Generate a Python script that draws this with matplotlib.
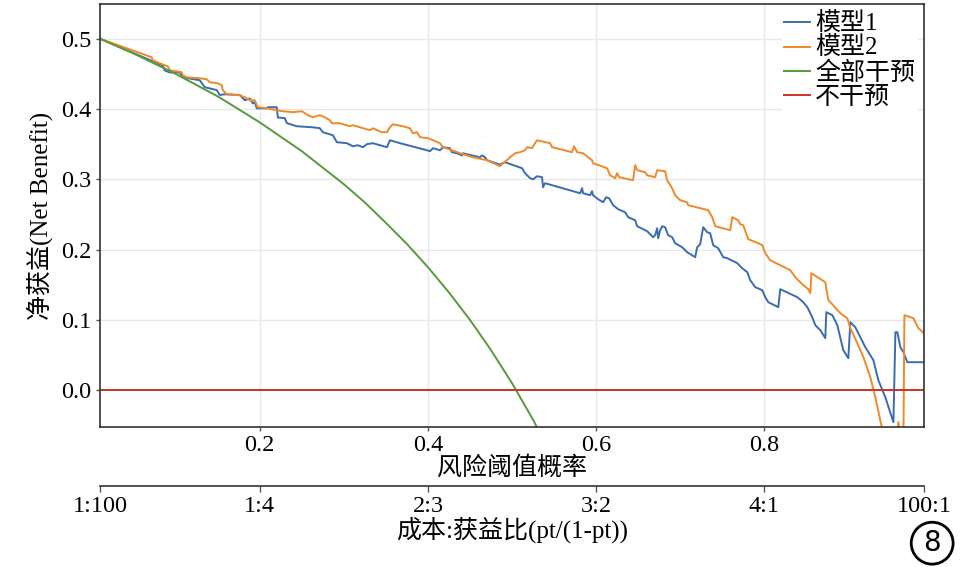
import matplotlib
matplotlib.use('Agg')
import matplotlib.pyplot as plt

plt.rcParams['font.family'] = ['Liberation Serif', 'Noto Sans CJK SC']
plt.rcParams['axes.unicode_minus'] = False

# threshold probability (pt) and net benefit
m1_pt = [0.01, 0.045, 0.0845, 0.0869, 0.0929, 0.1048, 0.1083, 0.1286, 0.1345, 0.1488, 0.1524, 0.1583,
         0.1762, 0.1821, 0.1881, 0.1917, 0.1940, 0.1964, 0.2083, 0.2095, 0.2202, 0.2214, 0.2298, 0.2321,
         0.2440, 0.2631, 0.2714, 0.2750, 0.2869, 0.2917, 0.3036, 0.3107, 0.3167, 0.3226, 0.3274, 0.3345,
         0.3429, 0.3512, 0.3548, 0.3667, 0.3988, 0.4024, 0.4060, 0.4143, 0.4179, 0.4262, 0.4286, 0.4345,
         0.4405, 0.4417, 0.4619, 0.4643, 0.4679, 0.4702, 0.4857, 0.4917, 0.5119, 0.5155, 0.5214, 0.5250,
         0.5298, 0.5357, 0.5369, 0.5393, 0.5810, 0.5833, 0.5845, 0.5929, 0.5952, 0.5964, 0.6024, 0.6083,
         0.6119, 0.6155, 0.6202, 0.6262, 0.6345, 0.6381, 0.6464, 0.6488, 0.6607, 0.6679, 0.6702, 0.6726,
         0.6738, 0.6762, 0.6786, 0.6821, 0.6857, 0.6905, 0.6940, 0.7024, 0.7083, 0.7179, 0.7202, 0.7238,
         0.7274, 0.7321, 0.7357, 0.7393, 0.7452, 0.7512, 0.7560, 0.7679, 0.7738, 0.7798, 0.7833, 0.7893,
         0.7976, 0.8012, 0.8048, 0.8167, 0.8190, 0.8393, 0.8464, 0.8512, 0.8571, 0.8607, 0.8667, 0.8726,
         0.8738, 0.8810, 0.8869, 0.8940, 0.9000, 0.9024, 0.9083, 0.9143, 0.9202, 0.9298, 0.9357, 0.9440,
         0.9536, 0.9560, 0.9583, 0.9619, 0.9655, 0.9702, 0.9900]
m1_nb = [0.500, 0.482, 0.462, 0.455, 0.452, 0.452, 0.445, 0.441, 0.431, 0.427, 0.420, 0.421,
         0.420, 0.4125, 0.415, 0.408, 0.410, 0.401, 0.401, 0.4026, 0.4026, 0.388, 0.387, 0.380,
         0.3755, 0.374, 0.3727, 0.367, 0.3627, 0.3528, 0.3514, 0.347, 0.3485, 0.3457, 0.350, 0.3514,
         0.3485, 0.3457, 0.3556, 0.3514, 0.3414, 0.340, 0.3443, 0.3414, 0.3457, 0.3443, 0.3386, 0.337,
         0.334, 0.337, 0.3314, 0.334, 0.3314, 0.3272, 0.321, 0.3243, 0.3158, 0.3087, 0.3016, 0.300,
         0.3044, 0.303, 0.2888, 0.2945, 0.2802, 0.2873, 0.2802, 0.2774, 0.2831, 0.2774, 0.2717, 0.2674,
         0.2745, 0.2731, 0.2632, 0.2575, 0.2532, 0.2461, 0.2418, 0.2333, 0.2262, 0.2176, 0.2205, 0.2304,
         0.2162, 0.2276, 0.2333, 0.2319, 0.2205, 0.2176, 0.2091, 0.2034, 0.1963, 0.1892, 0.2034, 0.2077,
         0.2319, 0.2248, 0.2233, 0.2063, 0.2020, 0.1892, 0.1878, 0.1807, 0.1735, 0.1679, 0.1565, 0.1465,
         0.1423, 0.1323, 0.1252, 0.1181, 0.1437, 0.1323, 0.1252, 0.1181, 0.1038, 0.0925, 0.0854, 0.0740,
         0.1110, 0.1067, 0.0925, 0.0569, 0.0455, 0.0967, 0.0896, 0.0754, 0.0612, 0.0427, 0.0142, -0.010,
         -0.0455, 0.0825, 0.0825, 0.0612, 0.0541, 0.0398, 0.0398]

m2_pt = [0.01, 0.0417, 0.0714, 0.0726, 0.0869, 0.0905, 0.0929, 0.1071, 0.1083, 0.1131, 0.1286, 0.1369,
         0.1405, 0.1500, 0.1548, 0.1560, 0.1607, 0.1762, 0.1821, 0.1881, 0.1940, 0.1976, 0.2083, 0.2202,
         0.2274, 0.2393, 0.2500, 0.2536, 0.2571, 0.2631, 0.2714, 0.2774, 0.2833, 0.2857, 0.2952, 0.3071,
         0.3107, 0.3310, 0.3345, 0.3452, 0.3512, 0.3548, 0.3583, 0.3702, 0.3786, 0.3821, 0.3869, 0.3905,
         0.4000, 0.4060, 0.4143, 0.4179, 0.4286, 0.4381, 0.4536, 0.4702, 0.4857, 0.4893, 0.4940, 0.4976,
         0.5036, 0.5095, 0.5155, 0.5179, 0.5238, 0.5250, 0.5298, 0.5452, 0.5476, 0.5714, 0.5738, 0.5774,
         0.5845, 0.5905, 0.5952, 0.5964, 0.6131, 0.6167, 0.6226, 0.6250, 0.6274, 0.6440, 0.6464, 0.6488,
         0.6583, 0.6607, 0.6702, 0.6726, 0.6821, 0.6845, 0.6905, 0.6940, 0.7000, 0.7083, 0.7095, 0.7333,
         0.7381, 0.7417, 0.7595, 0.7619, 0.7690, 0.7714, 0.7750, 0.7810, 0.7929, 0.7976, 0.8012, 0.8071,
         0.8190, 0.8310, 0.8369, 0.8429, 0.8464, 0.8524, 0.8548, 0.8560, 0.8726, 0.8762, 0.8821, 0.8869,
         0.8905, 0.8988, 0.9024, 0.9107, 0.9179, 0.9262, 0.9321, 0.9405, 0.9452, 0.9571, 0.9595, 0.9619,
         0.9655, 0.9667, 0.9774, 0.9833, 0.9900]
m2_nb = [0.500, 0.4865, 0.4737, 0.4694, 0.4623, 0.4609, 0.4552, 0.4524, 0.4481, 0.4452, 0.4438, 0.4424,
         0.4381, 0.4367, 0.4339, 0.4268, 0.4211, 0.4196, 0.4168, 0.4125, 0.4125, 0.4026, 0.4011, 0.3983,
         0.3969, 0.3955, 0.3969, 0.394, 0.3912, 0.3883, 0.3912, 0.3883, 0.3841, 0.3798, 0.3798, 0.3755,
         0.377, 0.3699, 0.3727, 0.367, 0.367, 0.3741, 0.3784, 0.3755, 0.3727, 0.3656, 0.367, 0.3599,
         0.3585, 0.3556, 0.3514, 0.3457, 0.3414, 0.3371, 0.3314, 0.3272, 0.3186, 0.3229, 0.3272, 0.3314,
         0.3371, 0.3386, 0.3414, 0.3457, 0.3443, 0.3471, 0.3556, 0.3514, 0.3457, 0.3386, 0.3471, 0.3386,
         0.3371, 0.3314, 0.3272, 0.3229, 0.3158, 0.3058, 0.3016, 0.3087, 0.303, 0.2987, 0.3201, 0.313,
         0.3101, 0.3058, 0.303, 0.313, 0.3115, 0.2987, 0.2873, 0.2774, 0.2703, 0.2674, 0.2632, 0.2561,
         0.2461, 0.2333, 0.2276, 0.2461, 0.2418, 0.2361, 0.2347, 0.2148, 0.2091, 0.2063, 0.1949, 0.1849,
         0.1778, 0.1707, 0.1607, 0.1536, 0.1494, 0.1437, 0.138, 0.1664, 0.1536, 0.128, 0.1209, 0.1138,
         0.1095, 0.1024, 0.0882, 0.0669, 0.0469, 0.0185, -0.010, -0.0569, -0.078, -0.071, -0.0455, -0.071,
         -0.071, 0.1067, 0.1024, 0.0882, 0.0811]

all_pt = [0.01, 0.05, 0.10, 0.15, 0.20, 0.25, 0.30, 0.325, 0.35, 0.375, 0.40, 0.425, 0.45, 0.475,
          0.50, 0.525, 0.55]
all_nb = [0.500, 0.479, 0.450, 0.418, 0.381, 0.340, 0.293, 0.267, 0.238, 0.208, 0.175, 0.139, 0.100,
          0.057, 0.010, -0.042, -0.100]

none_pt = [0.01, 0.99]
none_nb = [0.0, 0.0]

labels = ['模型1', '模型2', '全部干预', '不干预']
colors = ['#3a6db0', '#f0892a', '#559b3c', '#cc3327']

ratio_pos = [0.01, 0.2, 0.4, 0.6, 0.8, 0.99]
ratio_labels = ['1:100', '1:4', '2:3', '3:2', '4:1', '100:1']

fig = plt.figure(figsize=(9.62, 5.67), dpi=100)
ax = fig.add_axes([0.104, 0.2474, 0.8565, 0.745])

ax.plot(m1_pt, m1_nb, color=colors[0], lw=1.4, label=labels[0])
ax.plot(m2_pt, m2_nb, color=colors[1], lw=1.4, label=labels[1])
ax.plot(all_pt, all_nb, color=colors[2], lw=1.4, label=labels[2])
ax.plot(none_pt, none_nb, color=colors[3], lw=1.4, label=labels[3])

ax.set_xlim(0.01, 0.99)
ax.set_ylim(-0.052, 0.549)
ax.set_xticks([0.2, 0.4, 0.6, 0.8])
ax.set_yticks([0.0, 0.1, 0.2, 0.3, 0.4, 0.5])
ax.grid(True, color='#e8e8e8', lw=1)
ax.set_axisbelow(True)
for s in ax.spines.values():
    s.set_color('#333333')
    s.set_linewidth(1.2)
ax.tick_params(labelsize=17.5, length=3, width=1, color='#555555', pad=3)
ax.set_xlabel('风险阈值概率', fontsize=18, labelpad=0)
ax.set_ylabel('净获益(Net Benefit)', fontsize=18, labelpad=6)

secax = ax.secondary_xaxis(-0.14)
secax.set_xticks(ratio_pos, ratio_labels)
secax.spines['bottom'].set_color('#333333')
secax.spines['bottom'].set_linewidth(1.2)
secax.tick_params(labelsize=17.5, length=4, width=1, color='#555555', pad=3)
secax.set_xlabel('成本:获益比(pt/(1-pt))', fontsize=18, labelpad=0)

leg = ax.legend(loc='upper right', fontsize=18, frameon=True, framealpha=1, edgecolor='none',
                fancybox=False, handlelength=1.05, handletextpad=0.2, labelspacing=0.05,
                borderpad=0.1, borderaxespad=0.25)

fig.text(0.969, 0.042, '8', fontsize=20, family='DejaVu Sans', ha='center', va='center',
         bbox=dict(boxstyle='circle,pad=0.25', fc='white', ec='black', lw=2))

fig.savefig('out.png', dpi=100)
